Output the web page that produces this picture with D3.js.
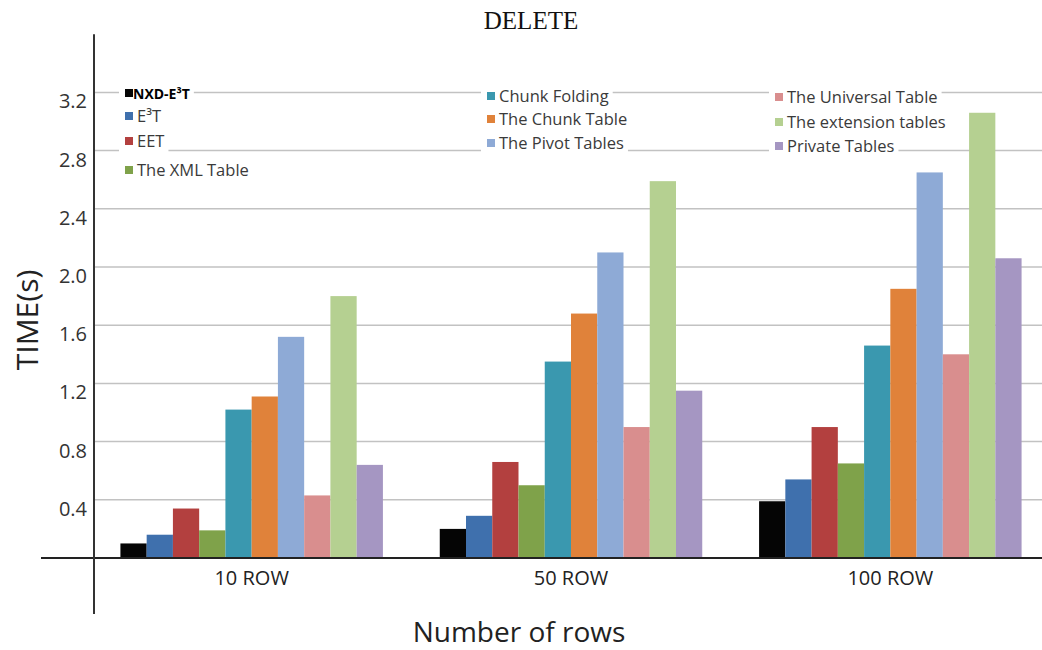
<!DOCTYPE html>
<html>
<head>
<meta charset="utf-8">
<script src="https://cdn.jsdelivr.net/npm/d3@7"></script>
<style>
  html, body { margin: 0; padding: 0; background: #fff; }
  svg { display: block; font-family: "Open Sans", "DejaVu Sans", sans-serif; }
</style>
</head>
<body>
<svg id="chart" width="1042" height="650"></svg>
<script>
// ---- data ----
const categories = ["10 ROW", "50 ROW", "100 ROW"];
const seriesNames = ["NXD-E\u00B3T", "E\u00B3T", "EET", "The XML Table", "Chunk Folding",
  "The Chunk Table", "The Pivot Tables", "The Universal Table", "The extension tables", "Private Tables"];
const nxdE3T        = [0.10, 0.20, 0.39];
const e3T           = [0.16, 0.29, 0.54];
const eet           = [0.34, 0.66, 0.90];
const xmlTable      = [0.19, 0.50, 0.65];
const chunkFolding  = [1.02, 1.35, 1.46];
const chunkTable    = [1.11, 1.68, 1.85];
const pivotTables   = [1.52, 2.10, 2.65];
const universalTbl  = [0.43, 0.90, 1.40];
const extensionTbls = [1.80, 2.59, 3.06];
const privateTables = [0.64, 1.15, 2.06];
const seriesValues = [nxdE3T, e3T, eet, xmlTable, chunkFolding, chunkTable,
  pivotTables, universalTbl, extensionTbls, privateTables];
const yTicks = [0.4, 0.8, 1.2, 1.6, 2.0, 2.4, 2.8, 3.2];
const yTickLabels = ["0.4", "0.8", "1.2", "1.6", "2.0", "2.4", "2.8", "3.2"];
const colors = ["#050505", "#3f70ad", "#b3403f", "#7fa24a", "#3a98af", "#e0823a",
  "#8eaad6", "#d98e8e", "#b5d091", "#a596c2"];

// ---- layout ----
const svg = d3.select("#chart");
const W = 1042;
const y = d3.scaleLinear().domain([0, 3.2]).range([558, 92.4]);
const x0 = d3.scaleBand().domain(categories).range([92, 1050]).paddingInner(0.178).paddingOuter(0.089);
const x1 = d3.scaleBand().domain(seriesNames).range([0, x0.bandwidth()]).padding(0);
const color = d3.scaleOrdinal().domain(seriesNames).range(colors);
const axisX = 94;

// title
svg.append("text").attr("x", 531).attr("y", 29).attr("text-anchor", "middle")
  .attr("font-family", "'Liberation Serif', 'Times New Roman', serif")
  .attr("font-size", 25).attr("fill", "#111").text("DELETE");

// gridlines
svg.append("g").selectAll("line").data(yTicks).join("line")
  .attr("x1", axisX).attr("x2", W)
  .attr("y1", d => y(d)).attr("y2", d => y(d))
  .attr("stroke", "#c2c2c2").attr("stroke-width", 1.5);

// tick labels
svg.append("g").selectAll("text").data(yTicks).join("text")
  .attr("x", 87).attr("y", d => y(d) + 16)
  .attr("text-anchor", "end").attr("font-size", 20).attr("fill", "#333")
  .text((d, i) => yTickLabels[i]);

// bars
const rows = categories.map((c, ci) => ({ cat: c, vals: seriesNames.map((s, si) => ({ s, v: seriesValues[si][ci] })) }));
svg.append("g").selectAll("g").data(rows).join("g")
  .attr("transform", d => `translate(${x0(d.cat)},0)`)
  .selectAll("rect").data(d => d.vals).join("rect")
  .attr("x", d => x1(d.s)).attr("width", x1.bandwidth())
  .attr("y", d => y(d.v)).attr("height", d => y(0) - y(d.v))
  .attr("fill", d => color(d.s));

// axes lines
svg.append("line").attr("x1", 41).attr("x2", W).attr("y1", y(0)).attr("y2", y(0))
  .attr("stroke", "#222").attr("stroke-width", 2);
svg.append("line").attr("x1", axisX).attr("x2", axisX).attr("y1", y(3.6)).attr("y2", 614)
  .attr("stroke", "#333").attr("stroke-width", 2);

// category labels
svg.append("g").selectAll("text").data(categories).join("text")
  .attr("x", d => x0(d) + x0.bandwidth() / 2).attr("y", 585)
  .attr("text-anchor", "middle").attr("font-size", 20).attr("fill", "#222").text(d => d);

// axis titles
svg.append("text").attr("x", 519).attr("y", 642).attr("text-anchor", "middle")
  .attr("font-size", 28).attr("fill", "#222").text("Number of rows");
svg.append("text").attr("transform", "translate(38,320) rotate(-90)")
  .attr("text-anchor", "middle").attr("font-size", 30).attr("fill", "#222").text("TIME(s)");

// legend
const legCols = [[0, 1, 2, 3], [4, 5, 6], [7, 8, 9]];
const legX = [125, 487, 775];
const legY = [[93, 116, 141, 170], [96, 119, 143], [97, 122, 146]];
const leg = svg.append("g");
legCols.forEach((col, c) => {
  col.forEach((si, r) => {
    const g = leg.append("g").attr("transform", `translate(${legX[c]},${legY[c][r]})`);
    const bg = g.append("rect").attr("fill", "#fff");
    g.append("rect").attr("x", 0).attr("y", -4).attr("width", 8).attr("height", 8)
      .attr("fill", color(seriesNames[si]));
    const t = g.append("text").attr("x", si === 0 ? 8 : 12).attr("y", 6)
      .attr("font-size", si === 0 ? 14 : 16.5)
      .attr("font-weight", si === 0 ? 700 : 400)
      .attr("fill", si === 0 ? "#000" : "#3a3a3a").text(seriesNames[si]);
    const bb = t.node().getBBox();
    bg.attr("x", -6).attr("y", -11).attr("width", bb.x + bb.width + 10).attr("height", 22);
  });
});
</script>
</body>
</html>
